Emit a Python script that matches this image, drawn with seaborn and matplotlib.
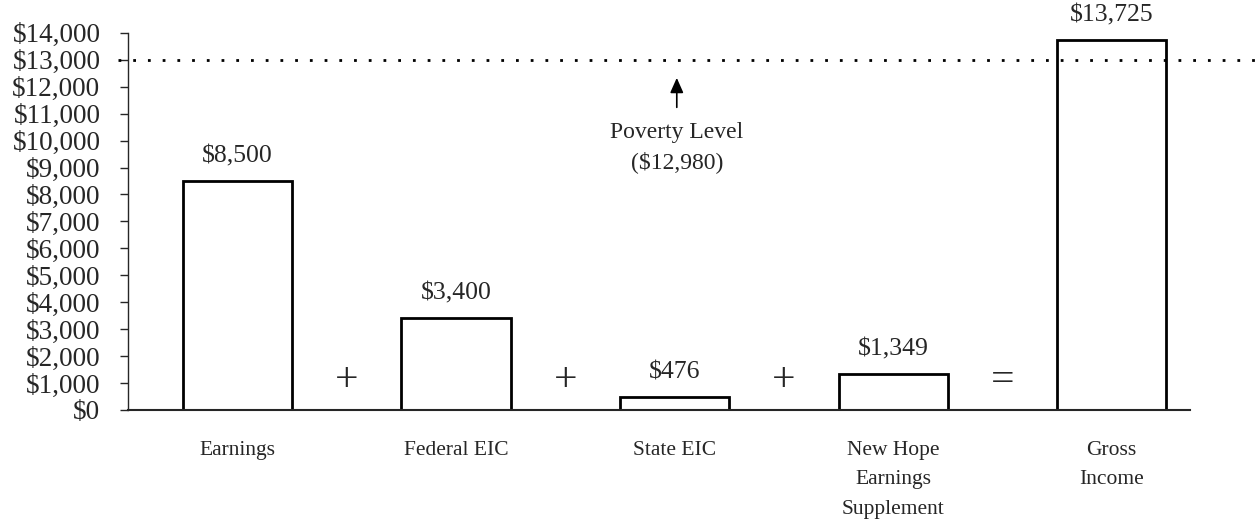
import matplotlib
matplotlib.use("Agg")
import matplotlib.pyplot as plt
import matplotlib.transforms as mtransforms
import seaborn as sns

categories = ["Earnings", "Federal EIC", "State EIC",
              "New Hope\nEarnings\nSupplement", "Gross\nIncome"]
values = [8500, 3400, 476, 1349, 13725]
value_labels = ["$8,500", "$3,400", "$476", "$1,349", "$13,725"]
operators = ["+", "+", "+", "="]
poverty_level = 12980
poverty_label = "Poverty Level\n($12,980)"
yticks = list(range(0, 14001, 1000))

sns.set_style("ticks")
plt.rcParams["font.family"] = ["Liberation Serif", "DejaVu Serif"]

fig = plt.figure(figsize=(12.57, 5.29), dpi=100)
ax = fig.add_axes([0.102, 0.225, 0.845, 0.713])

sns.barplot(x=categories, y=values, color="white", edgecolor="black",
            linewidth=2, width=0.5, saturation=1, ax=ax)

ax.set_xlim(-0.5, 4.36)
ax.set_ylim(0, 14000)
ax.set_yticks(yticks)
ax.set_yticklabels([f"${t:,}" for t in yticks], fontsize=19.5)
ax.tick_params(axis="y", direction="out", length=6, width=1, pad=14)
ax.tick_params(axis="x", length=0, pad=22, labelsize=15.5)
for lab in ax.get_xticklabels():
    lab.set_linespacing(1.75)
    lab.set_verticalalignment("top")
ax.set_xlabel("")
ax.set_ylabel("")
sns.despine(ax=ax)
ax.spines["left"].set_linewidth(1)
ax.spines["bottom"].set_linewidth(1.5)

# value labels above bars
for i, (v, t) in enumerate(zip(values, value_labels)):
    ax.text(i, v + 500, t, ha="center", va="bottom", fontsize=18.5)

# + / = between bars
for i, op in enumerate(operators):
    ax.text(i + 0.5, 1100, op, ha="center", va="center", fontsize=30)

# poverty line, running past the axes on both sides
trans = mtransforms.blended_transform_factory(ax.transAxes, ax.transData)
ax.plot([-0.01, 1.08], [poverty_level, poverty_level], transform=trans,
        color="black", linewidth=2, linestyle=(0, (1, 4.3)),
        dash_capstyle="butt", clip_on=False, zorder=5)

ax.annotate("", xy=(2.01, poverty_level - 550), xytext=(2.01, poverty_level - 1850),
            arrowprops=dict(arrowstyle="-|>,head_width=0.4,head_length=0.9",
                        color="black", lw=1.2))
ax.text(2.01, poverty_level - 2300, poverty_label, ha="center", va="top",
        fontsize=17, linespacing=1.45)

fig.savefig("out.png", dpi=100)
